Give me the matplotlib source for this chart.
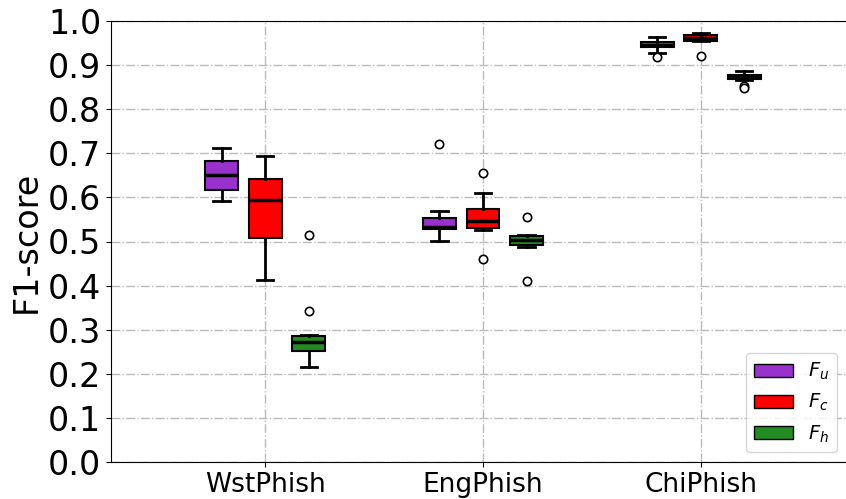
import matplotlib
matplotlib.use("Agg")
import matplotlib.pyplot as plt
from matplotlib.patches import Patch

# box statistics per dataset: (whislo, q1, med, q3, whishi, fliers)
datasets = ["WstPhish", "EngPhish", "ChiPhish"]
metrics = [r"$F_u$", r"$F_c$", r"$F_h$"]
colors = ["#9932CC", "#FF0000", "#228B22"]

F_u = [
    (0.592, 0.617, 0.651, 0.682, 0.713, []),
    (0.502, 0.529, 0.534, 0.554, 0.569, [0.721]),
    (0.927, 0.940, 0.946, 0.952, 0.964, [0.918]),
]
F_c = [
    (0.413, 0.509, 0.593, 0.641, 0.694, []),
    (0.526, 0.531, 0.547, 0.574, 0.609, [0.655, 0.460]),
    (0.954, 0.955, 0.961, 0.968, 0.972, [0.921]),
]
F_h = [
    (0.215, 0.251, 0.271, 0.286, 0.288, [0.515, 0.342]),
    (0.487, 0.491, 0.503, 0.513, 0.515, [0.555, 0.410]),
    (0.866, 0.868, 0.873, 0.878, 0.887, [0.853, 0.849]),
]
all_stats = [F_u, F_c, F_h]

fig = plt.figure(figsize=(8.46, 4.99), dpi=100)
ax = fig.add_axes([111 / 846, 37 / 499, 740 / 846, 441 / 499])

offsets = [-0.2, 0.0, 0.2]
for k in range(3):
    stats = []
    for s in all_stats[k]:
        stats.append(dict(whislo=s[0], q1=s[1], med=s[2], q3=s[3], whishi=s[4], fliers=s[5]))
    pos = [i + 1 + offsets[k] for i in range(3)]
    bp = ax.bxp(stats, positions=pos, widths=0.15, patch_artist=True,
                boxprops=dict(facecolor=colors[k], edgecolor="black", linewidth=1.5),
                medianprops=dict(color="black", linewidth=2.5),
                whiskerprops=dict(color="black", linewidth=2),
                capprops=dict(color="black", linewidth=2),
                flierprops=dict(marker="o", markerfacecolor="white", markeredgecolor="black",
                                markersize=6, markeredgewidth=1.2))

ax.set_xlim(0.292, 3.69)
ax.set_ylim(0, 1.0)
ax.set_xticks([1, 2, 3])
ax.set_xticklabels(datasets, fontsize=19)
ax.set_yticks([i / 10 for i in range(11)])
ax.set_yticklabels(["%.1f" % (i / 10) for i in range(11)], fontsize=24)
ax.set_ylabel("F1-score", fontsize=24)
ax.grid(True, linestyle="-.", color="#bbbbbb", linewidth=1)
ax.set_axisbelow(True)

handles = [Patch(facecolor=colors[k], edgecolor="black", label=metrics[k]) for k in range(3)]
ax.legend(handles=handles, loc="lower right", fontsize=14, bbox_to_anchor=(0.9946, 0.0))

fig.savefig("out.png", dpi=100)
